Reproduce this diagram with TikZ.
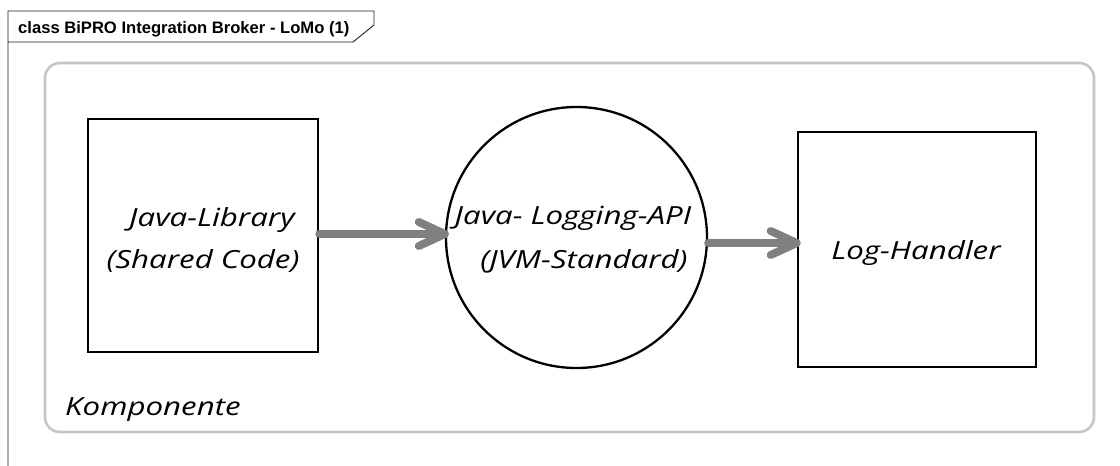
\documentclass[tikz,border=0pt]{standalone}
\usepackage{fontspec}
\setmainfont{Open Sans}
\newfontfamily\titlefont{Liberation Sans}
\newfontfamily\handfont{Open Sans}[FakeStretch=1.25]
\usetikzlibrary{arrows.meta}
\definecolor{framegray}{HTML}{202020}
\definecolor{compgray}{HTML}{C6C6C6}
\definecolor{flowgray}{HTML}{808080}
\tikzset{
  frameline/.style={draw=framegray, line width=0.9pt},
  container/.style={draw=compgray, line width=2.6pt, rounded corners=15pt,
    minimum width=1049pt, minimum height=369pt},
  blockbox/.style={draw=black, line width=2.6pt},
  apicircle/.style={circle, draw=black, line width=2.3pt, minimum size=261pt, inner sep=0pt},
  handtext/.style={font=\handfont\itshape\fontsize{25}{30}\selectfont, anchor=base, inner sep=0pt},
  flow/.style={draw=flowgray, line width=8pt, line cap=round,
    -{Straight Barb[length=26pt, width=24pt, round]}},
}
\begin{document}
\begin{tikzpicture}[x=1pt,y=-1pt]
\useasboundingbox (0,0) rectangle (1120,466);
\fill[white] (0,0) rectangle (1120,466);

% diagram frame with its name tab
\draw[frameline] (8,466) -- (8,11) -- (374,11) -- (374,25) -- (353,42) -- (8,42);
\node[anchor=base west, inner sep=0pt, font=\titlefont\bfseries\fontsize{16.6}{19}\selectfont]
  (title) at (18,33) {class BiPRO Integration Broker - LoMo (1)};

% component container
\node[container] (comp) at (569.5,247.5) {};
\node[handtext, anchor=base west] (complabel) at (65,415) {Komponente};

% blocks
\node[blockbox, minimum width=230pt, minimum height=233pt] (lib) at (203,235.5) {};
\node[apicircle] (api) at (576.5,237.5) {};
\node[blockbox, minimum width=238pt, minimum height=235pt] (log) at (917,249.5) {};

% labels
\node[handtext] (libA) at (212,226) {Java-Library};
\node[handtext] (libB) at (203,268) {(Shared Code)};
\node[handtext] (apiA) at (573,224) {Java- Logging-API};
\node[handtext] (apiB) at (584,268) {(JVM-Standard)};
\node[handtext] (logA) at (916,259) {Log-Handler};

% flows
\draw[flow] ([yshift=1.5pt]lib.east) -- ([xshift=4pt,yshift=3.5pt]api.west);
\draw[flow] ([yshift=-5.5pt]api.east) -- ([xshift=4pt,yshift=6.5pt]log.west);
\end{tikzpicture}
\end{document}
